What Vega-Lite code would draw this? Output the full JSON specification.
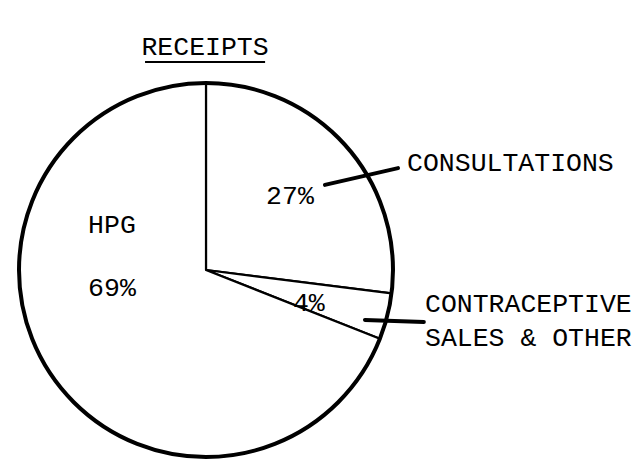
{
  "$schema": "https://vega.github.io/schema/vega-lite/v6.json",
  "width": 634,
  "height": 467,
  "autosize": {"type": "fit", "contains": "padding"},
  "padding": 0,
  "background": "white",
  "config": {"view": {"stroke": null}},
  "datasets": {
    "slices": [
      {"name": "CONSULTATIONS", "pct": 27, "k": 1, "cx": 0, "cy": 0},
      {"name": "CONTRACEPTIVE SALES & OTHER", "pct": 4, "k": 2, "cx": 0, "cy": 0},
      {"name": "HPG", "pct": 69, "k": 3, "cx": 0, "cy": 0}
    ],
    "labels": [
      {"text": "27%", "u": 44.9, "v": 39.6, "al": "center"},
      {"text": "4%", "u": 55.0, "v": -17.6, "al": "center"},
      {"text": "HPG", "u": -50.3, "v": 24.1, "al": "center"},
      {"text": "69%", "u": -50.3, "v": -9.6, "al": "center"},
      {"text": "RECEIPTS", "u": -0.5, "v": 119.3, "al": "center"},
      {"text": "CONSULTATIONS", "u": 107.5, "v": 57.2, "al": "left"},
      {"text": "CONTRACEPTIVE", "u": 117.1, "v": -18.2, "al": "left"},
      {"text": "SALES & OTHER", "u": 117.1, "v": -36.4, "al": "left"}
    ],
    "leaders": [
      {"u": 63.6, "v": 45.5, "u2": 102.7, "v2": 54.5},
      {"u": 85.0, "v": -26.7, "u2": 116.5, "v2": -27.8}
    ],
    "underline": [
      {"u": -32.6, "v": 111.3, "u2": 31.6, "v2": 111.3}
    ]
  },
  "layer": [
    {
      "data": {"name": "slices"},
      "mark": {"type": "arc", "outerRadius": 187, "fill": "white", "stroke": "black", "strokeWidth": 2.2, "strokeJoin": "round"},
      "encoding": {
        "theta": {"field": "pct", "type": "quantitative", "stack": true},
        "order": {"field": "k", "type": "quantitative"},
        "x": {"field": "cx", "type": "quantitative", "scale": {"domain": [-110.16, 228.88], "nice": false, "zero": false}, "axis": null},
        "y": {"field": "cy", "type": "quantitative", "scale": {"domain": [-105.35, 144.39], "nice": false, "zero": false}, "axis": null}
      }
    },
    {
      "data": {"name": "slices"},
      "transform": [{"filter": "datum.k == 1"}],
      "mark": {"type": "point", "shape": "circle", "size": 139876, "filled": false, "stroke": "black", "strokeWidth": 4, "opacity": 1},
      "encoding": {
        "x": {"field": "cx", "type": "quantitative"},
        "y": {"field": "cy", "type": "quantitative"}
      }
    },
    {
      "data": {"name": "leaders"},
      "mark": {"type": "rule", "stroke": "black", "strokeWidth": 4, "strokeCap": "round"},
      "encoding": {
        "x": {"field": "u", "type": "quantitative"},
        "y": {"field": "v", "type": "quantitative"},
        "x2": {"field": "u2"},
        "y2": {"field": "v2"}
      }
    },
    {
      "data": {"name": "underline"},
      "mark": {"type": "rule", "stroke": "black", "strokeWidth": 2},
      "encoding": {
        "x": {"field": "u", "type": "quantitative"},
        "y": {"field": "v", "type": "quantitative"},
        "x2": {"field": "u2"},
        "y2": {"field": "v2"}
      }
    },
    {
      "data": {"name": "labels"},
      "transform": [{"filter": "datum.al == 'center'"}],
      "mark": {"type": "text", "font": "Liberation Mono", "fontSize": 26.5, "align": "center", "baseline": "middle", "fill": "black"},
      "encoding": {
        "x": {"field": "u", "type": "quantitative"},
        "y": {"field": "v", "type": "quantitative"},
        "text": {"field": "text"}
      }
    },
    {
      "data": {"name": "labels"},
      "transform": [{"filter": "datum.al == 'left'"}],
      "mark": {"type": "text", "font": "Liberation Mono", "fontSize": 26.5, "align": "left", "baseline": "middle", "fill": "black"},
      "encoding": {
        "x": {"field": "u", "type": "quantitative"},
        "y": {"field": "v", "type": "quantitative"},
        "text": {"field": "text"}
      }
    }
  ]
}
